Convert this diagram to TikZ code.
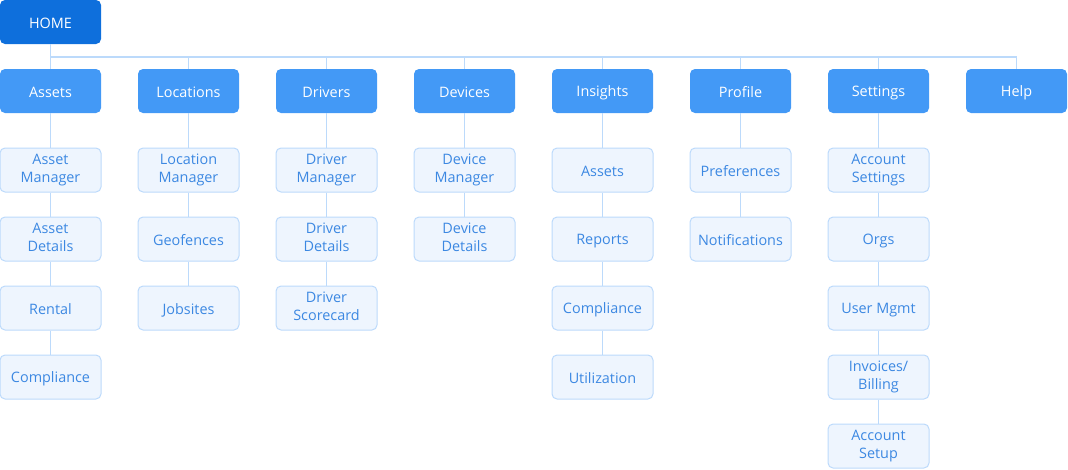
\documentclass[tikz,border=0pt]{standalone}
\usepackage{fontspec}
\setmainfont{Open Sans}
\usepackage{tikz}
\definecolor{homeblue}{HTML}{0E6FDC}
\definecolor{topblue}{HTML}{4399F6}
\definecolor{subfill}{HTML}{EEF5FE}
\definecolor{subline}{HTML}{BCDAFB}
\definecolor{subtext}{HTML}{3C88E2}
\newcommand{\topstrut}{\rule{0pt}{15pt}}
\newcommand{\botstrut}{\rule[-3pt]{0pt}{3pt}}
\tikzset{
  box/.style={rounded corners=5pt,minimum width=101pt,minimum height=44pt,
    align=center,inner sep=2pt,font=\fontsize{14.4}{18}\selectfont,
    execute at begin node=\topstrut,execute at end node=\botstrut},
  home/.style={box,fill=homeblue,text=white},
  topbox/.style={box,fill=topblue,text=white},
  subbox/.style={box,fill=subfill,draw=subline,line width=1pt,text=subtext},
  link/.style={draw=subline,line width=1.5pt},
}

\begin{document}
\begin{tikzpicture}[x=1pt,y=-1pt]
      \useasboundingbox (0,0) rectangle (1068,469);

      \node[home] (home) at (50.5,22) {HOME};

      \foreach \i/\lab in {1/Assets, 2/Locations, 3/Drivers, 4/Devices,
                           5/Insights, 6/Profile, 7/Settings, 8/Help} {
        \node[topbox] (t\i) at ({50.5+138*(\i-1)},91) {\lab};
      }

      % children, one column at a time
      \foreach \j/\txt in {1/{Asset\\Manager}, 2/{Asset\\Details}, 3/Rental, 4/Compliance}
        \node[subbox] (a\j) at (50.5,{170+69*(\j-1)}) {\txt};
      \foreach \j/\txt in {1/{Location\\Manager}, 2/Geofences, 3/Jobsites}
        \node[subbox] (b\j) at (188.5,{170+69*(\j-1)}) {\txt};
      \foreach \j/\txt in {1/{Driver\\Manager}, 2/{Driver\\Details}, 3/{Driver\\Scorecard}}
        \node[subbox] (c\j) at (326.5,{170+69*(\j-1)}) {\txt};
      \foreach \j/\txt in {1/{Device\\Manager}, 2/{Device\\Details}}
        \node[subbox] (d\j) at (464.5,{170+69*(\j-1)}) {\txt};
      \foreach \j/\txt in {1/Assets, 2/Reports, 3/Compliance, 4/Utilization}
        \node[subbox] (e\j) at (602.5,{170+69*(\j-1)}) {\txt};
      \foreach \j/\txt in {1/Preferences, 2/Notifications}
        \node[subbox] (f\j) at (740.5,{170+69*(\j-1)}) {\txt};
      \foreach \j/\txt in {1/{Account\\Settings}, 2/Orgs, 3/{User Mgmt},
                           4/{Invoices/\\Billing}, 5/{Account\\Setup}}
        \node[subbox] (g\j) at (878.5,{170+69*(\j-1)}) {\txt};

      % tree lines
      \foreach \i in {1,...,8} {
        \draw[link] (home.south) -- ++(0,13) -| (t\i.north);
      }
      \draw[link] (t1) -- (a1) -- (a2) -- (a3) -- (a4);
      \draw[link] (t2) -- (b1) -- (b2) -- (b3);
      \draw[link] (t3) -- (c1) -- (c2) -- (c3);
      \draw[link] (t4) -- (d1) -- (d2);
      \draw[link] (t5) -- (e1) -- (e2) -- (e3) -- (e4);
      \draw[link] (t6) -- (f1) -- (f2);
      \draw[link] (t7) -- (g1) -- (g2) -- (g3) -- (g4) -- (g5);
    \end{tikzpicture}
\end{document}
